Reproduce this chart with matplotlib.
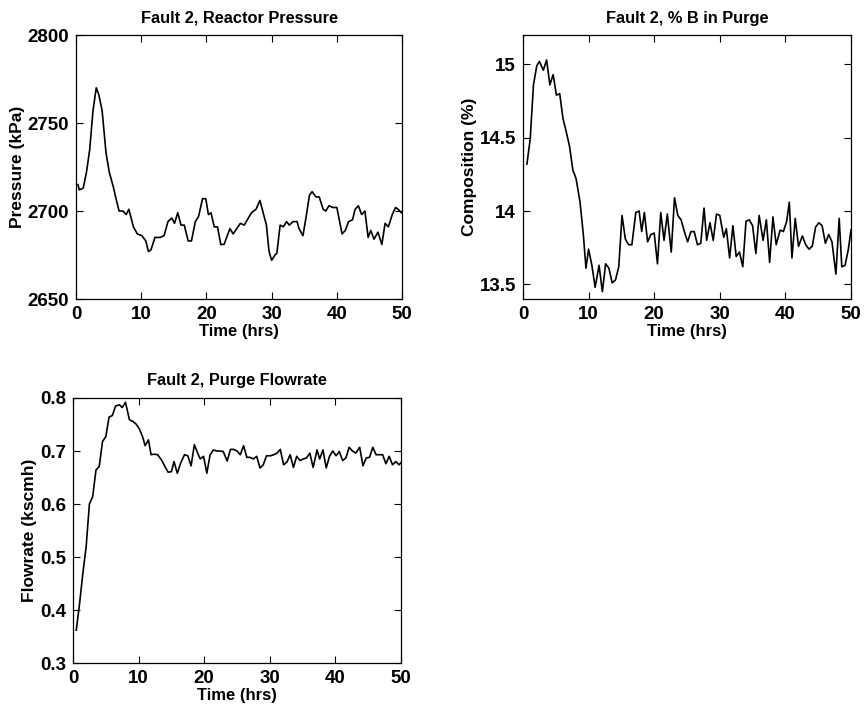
import matplotlib
matplotlib.use("Agg")
import matplotlib.pyplot as plt

plt.rcParams['font.family'] = ['Liberation Sans', 'DejaVu Sans']
plt.rcParams['font.weight'] = 'bold'

# Reactor pressure (kPa)
p_time = [0.3, 0.5, 1.1, 1.6, 2.1, 2.6, 3.1, 3.5, 4.0, 4.6, 5.1, 5.7, 6.2, 6.6, 7.2, 7.7,
          8.1, 8.8, 9.4, 10.1, 10.7, 11.1, 11.5, 12.1, 12.9, 13.5, 14.1, 14.7, 15.1, 15.6,
          16.1, 16.6, 17.2, 17.7, 18.3, 18.8, 19.4, 19.9, 20.3, 20.7, 21.2, 21.7, 22.2, 22.7,
          23.6, 24.1, 25.2, 25.8, 26.9, 27.6, 28.2, 28.7, 29.2, 29.6, 30.0, 30.5, 30.8, 31.3,
          31.8, 32.3, 32.7, 33.3, 33.9, 34.2, 34.8, 35.3, 35.8, 36.2, 36.8, 37.3, 37.9, 38.3,
          38.8, 39.4, 40.0, 40.8, 41.3, 41.8, 42.4, 42.8, 43.3, 43.8, 44.3, 44.8, 45.2, 45.7,
          46.3, 46.9, 47.4, 47.9, 48.5, 49.0, 49.4, 49.9]
pressure = [2715, 2712, 2713, 2722, 2735, 2757, 2770, 2766, 2757, 2733, 2722, 2714, 2706,
            2700, 2700, 2698, 2701, 2691, 2687, 2686, 2683, 2677, 2678, 2685, 2685, 2686,
            2694, 2696, 2693, 2699, 2692, 2692, 2683, 2683, 2694, 2697, 2707, 2707, 2698,
            2699, 2691, 2691, 2681, 2681, 2690, 2687, 2693, 2692, 2699, 2701, 2706, 2699,
            2692, 2677, 2672, 2675, 2676, 2692, 2691, 2694, 2692, 2694, 2694, 2690, 2686,
            2697, 2709, 2711, 2708, 2708, 2701, 2700, 2703, 2702, 2702, 2687, 2689, 2694,
            2695, 2701, 2703, 2698, 2700, 2685, 2689, 2684, 2688, 2681, 2693, 2691, 2698,
            2702, 2701, 2699]

# % B in purge
b_time = [0.6, 1.1, 1.6, 2.1, 2.5, 3.1, 3.6, 4.1, 4.6, 5.1, 5.6, 6.1, 6.6, 7.1, 7.6, 8.1,
          8.7, 9.2, 9.6, 10.0, 10.5, 11.0, 11.6, 12.1, 12.6, 13.1, 13.6, 14.1, 14.6, 15.1,
          15.6, 16.1, 16.6, 17.2, 17.7, 18.1, 18.5, 19.0, 19.5, 20.0, 20.5, 21.0, 21.5, 22.0,
          22.6, 23.1, 23.6, 24.1, 24.6, 25.1, 25.6, 26.1, 26.6, 27.1, 27.6, 28.0, 28.5, 29.0,
          29.5, 30.0, 30.6, 31.0, 31.5, 32.0, 32.5, 33.0, 33.5, 34.0, 34.5, 35.0, 35.5, 36.0,
          36.6, 37.1, 37.6, 38.1, 38.6, 39.2, 39.7, 40.2, 40.6, 41.0, 41.5, 42.0, 42.6, 43.1,
          43.6, 44.1, 44.6, 45.1, 45.6, 46.1, 46.6, 47.1, 47.7, 48.2, 48.6, 49.1, 49.6, 50.0]
b_comp = [14.32, 14.49, 14.86, 14.99, 15.02, 14.96, 15.03, 14.86, 14.93, 14.79, 14.80,
          14.63, 14.54, 14.44, 14.28, 14.22, 14.06, 13.84, 13.61, 13.74, 13.63, 13.48,
          13.63, 13.45, 13.64, 13.61, 13.51, 13.53, 13.62, 13.97, 13.81, 13.77, 13.77,
          13.99, 14.00, 13.86, 13.99, 13.79, 13.84, 13.85, 13.64, 13.99, 13.80, 13.98,
          13.72, 14.09, 13.97, 13.94, 13.86, 13.79, 13.86, 13.86, 13.77, 13.78, 14.02,
          13.80, 13.92, 13.80, 13.98, 13.97, 13.82, 13.88, 13.68, 13.90, 13.69, 13.72,
          13.62, 13.93, 13.94, 13.90, 13.71, 13.97, 13.80, 13.94, 13.65, 13.96, 13.77,
          13.87, 13.86, 13.93, 14.06, 13.68, 13.95, 13.76, 13.83, 13.77, 13.74, 13.76,
          13.89, 13.92, 13.90, 13.78, 13.84, 13.79, 13.57, 13.95, 13.62, 13.63, 13.74, 13.87]

# Purge flowrate (kscmh)
f_time = [0.5, 1.0, 1.5, 2.0, 2.5, 3.0, 3.5, 4.0, 4.5, 5.0, 5.5, 6.0, 6.5, 7.1, 7.5, 8.0,
          8.6, 9.1, 9.6, 10.1, 10.6, 11.0, 11.5, 11.9, 12.4, 12.9, 13.5, 14.0, 14.5, 15.0,
          15.4, 15.9, 16.4, 17.0, 17.5, 18.0, 18.5, 19.0, 19.4, 19.9, 20.4, 20.9, 21.4, 21.9,
          22.4, 22.9, 23.5, 24.0, 24.5, 25.0, 25.5, 26.0, 26.5, 27.0, 27.5, 28.0, 28.5, 29.0,
          29.5, 30.1, 30.6, 31.1, 31.6, 32.1, 32.6, 33.1, 33.6, 34.1, 34.6, 35.1, 35.6, 36.1,
          36.6, 37.2, 37.6, 38.1, 38.6, 39.1, 39.6, 40.1, 40.6, 41.1, 41.6, 42.1, 42.6, 43.1,
          43.7, 44.2, 44.7, 45.2, 45.7, 46.2, 46.7, 47.2, 47.7, 48.2, 48.7, 49.2, 49.7, 50.0]
flowrate = [0.362, 0.412, 0.469, 0.519, 0.600, 0.614, 0.664, 0.671, 0.718, 0.727, 0.764,
            0.767, 0.785, 0.787, 0.782, 0.792, 0.759, 0.756, 0.751, 0.742, 0.727, 0.710,
            0.721, 0.693, 0.694, 0.693, 0.683, 0.671, 0.660, 0.661, 0.680, 0.658, 0.677,
            0.693, 0.691, 0.672, 0.712, 0.696, 0.685, 0.690, 0.658, 0.693, 0.702, 0.700,
            0.700, 0.699, 0.681, 0.703, 0.703, 0.700, 0.693, 0.710, 0.688, 0.688, 0.685,
            0.690, 0.668, 0.674, 0.691, 0.691, 0.693, 0.696, 0.703, 0.674, 0.679, 0.693,
            0.669, 0.690, 0.682, 0.685, 0.687, 0.696, 0.669, 0.702, 0.685, 0.702, 0.668,
            0.690, 0.700, 0.691, 0.699, 0.682, 0.687, 0.707, 0.700, 0.696, 0.707, 0.672,
            0.687, 0.688, 0.707, 0.693, 0.693, 0.693, 0.676, 0.690, 0.674, 0.680, 0.674, 0.678]

x_ticks = [0, 10, 20, 30, 40, 50]

fig = plt.figure(figsize=(8.65, 7.13), dpi=100)
ax1 = fig.add_axes([0.0879, 0.5806, 0.3769, 0.3703])
ax2 = fig.add_axes([0.6046, 0.5806, 0.3792, 0.3703])
ax3 = fig.add_axes([0.0844, 0.0701, 0.3792, 0.3717])


def style(ax, title, ylabel):
    ax.set_title(title, fontsize=11.8, fontweight='bold', pad=9)
    ax.set_ylabel(ylabel, fontsize=12.5, fontweight='bold', labelpad=2)
    ax.set_xlabel("Time (hrs)", fontsize=12, fontweight='bold', labelpad=1)
    ax.set_xlim(0, 50)
    ax.set_xticks(x_ticks)
    ax.tick_params(direction='in', top=True, right=True, length=5, width=0.8,
                   labelsize=13.5, pad=5)
    for lab in ax.get_xticklabels() + ax.get_yticklabels():
        lab.set_fontweight('bold')
    for s in ax.spines.values():
        s.set_linewidth(0.9)


ax1.plot(p_time, pressure, color='black', linewidth=1.2)
ax1.set_ylim(2650, 2800)
ax1.set_yticks([2650, 2700, 2750, 2800])
style(ax1, "Fault 2, Reactor Pressure", "Pressure (kPa)")

ax2.plot(b_time, b_comp, color='black', linewidth=1.2)
ax2.set_ylim(13.4, 15.2)
ax2.set_yticks([13.5, 14, 14.5, 15])
ax2.set_yticklabels(["13.5", "14", "14.5", "15"])
style(ax2, "Fault 2, % B in Purge", "Composition (%)")

ax3.plot(f_time, flowrate, color='black', linewidth=1.2)
ax3.set_ylim(0.3, 0.8)
ax3.set_yticks([0.3, 0.4, 0.5, 0.6, 0.7, 0.8])
style(ax3, "Fault 2, Purge Flowrate", "Flowrate (kscmh)")

fig.savefig("out.png", dpi=100)
